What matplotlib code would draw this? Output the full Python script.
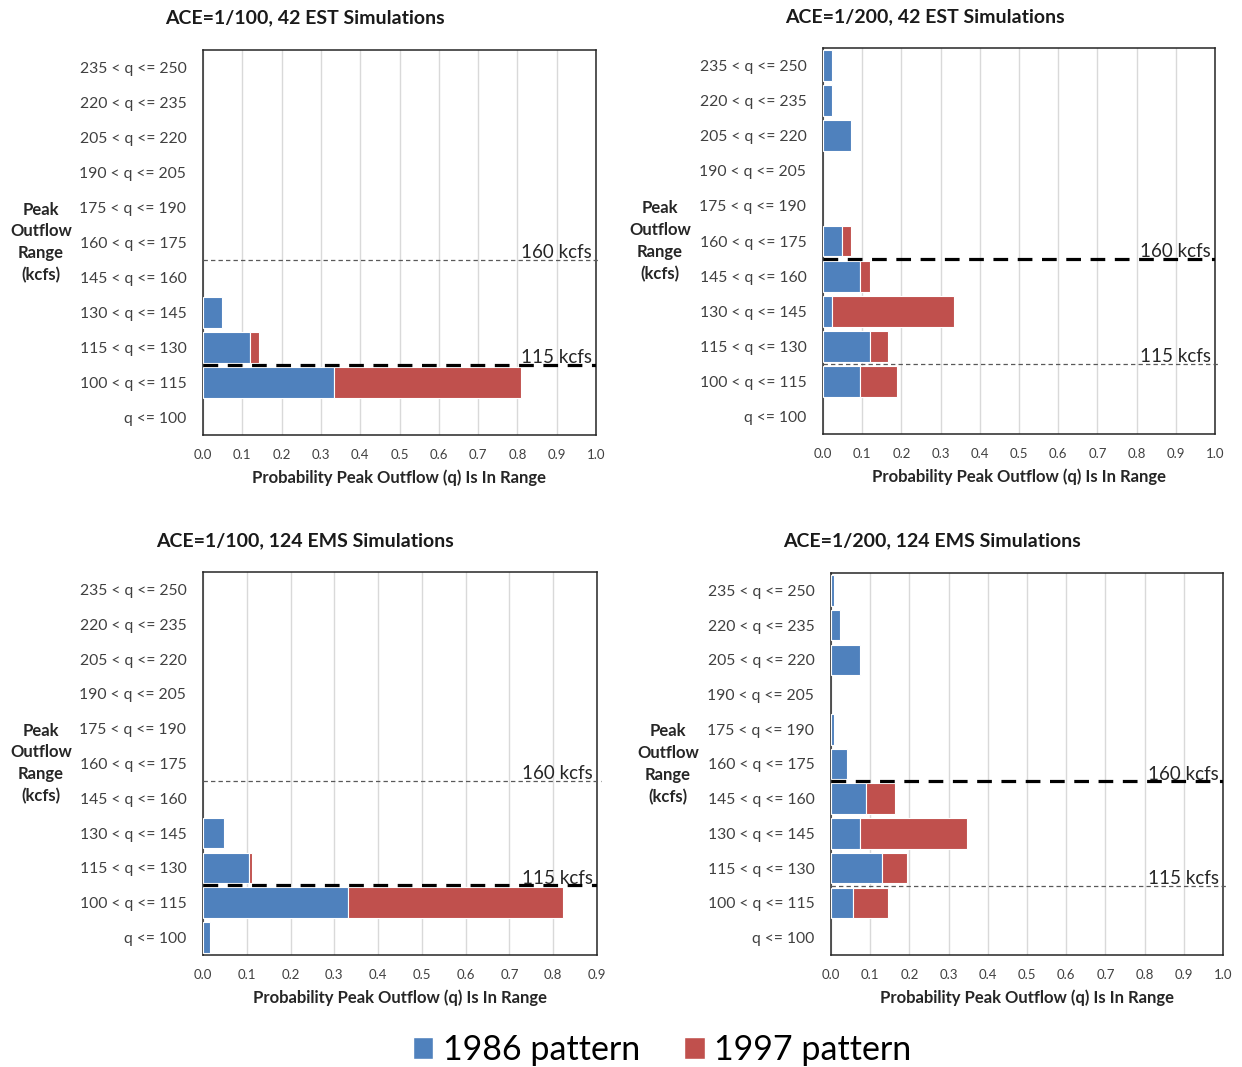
import matplotlib
matplotlib.use("Agg")
import numpy as np
from matplotlib import pyplot as plt
from matplotlib.patches import Patch

plt.rcParams['font.family'] = ['Lato', 'DejaVu Sans']

ranges = ['q <= 100', '100 < q <= 115', '115 < q <= 130', '130 < q <= 145',
          '145 < q <= 160', '160 < q <= 175', '175 < q <= 190', '190 < q <= 205',
          '205 < q <= 220', '220 < q <= 235', '235 < q <= 250']

# probability per range, 1986 / 1997 pattern
est100_1986 = [0, 0.333, 0.119, 0.048, 0, 0, 0, 0, 0, 0, 0]
est100_1997 = [0, 0.476, 0.024, 0, 0, 0, 0, 0, 0, 0, 0]
est200_1986 = [0, 0.095, 0.119, 0.024, 0.095, 0.048, 0, 0, 0.071, 0.024, 0.024]
est200_1997 = [0, 0.095, 0.048, 0.310, 0.024, 0.024, 0, 0, 0, 0, 0]
ems100_1986 = [0.016, 0.331, 0.105, 0.048, 0, 0, 0, 0, 0, 0, 0]
ems100_1997 = [0, 0.492, 0.008, 0, 0, 0, 0, 0, 0, 0, 0]
ems200_1986 = [0, 0.056, 0.129, 0.073, 0.089, 0.040, 0.008, 0, 0.073, 0.024, 0.008]
ems200_1997 = [0, 0.089, 0.065, 0.274, 0.073, 0, 0, 0, 0, 0, 0]

titles = ['ACE=1/100, 42 EST Simulations', 'ACE=1/200, 42 EST Simulations',
          'ACE=1/100, 124 EMS Simulations', 'ACE=1/200, 124 EMS Simulations']

BLUE = '#4F81BD'
RED = '#C0504D'
W, H = 1242, 1067

fig = plt.figure(figsize=(W / 100, H / 100), dpi=100)


def px_axes(l, t, r, b):
    return fig.add_axes([l / W, 1 - b / H, (r - l) / W, (b - t) / H])


def ftext(x, y, s, **kw):
    fig.text(x / W, 1 - y / H, s, **kw)


def panel(box, blue, red, xmax, thick_at, thin_at, title, title_x, title_y, ylab_x):
    l, t, r, b = box
    ax = px_axes(l, t, r, b)
    y = np.arange(len(ranges))
    b1 = ax.barh(y, blue, height=0.88, color=BLUE, edgecolor='white', linewidth=0.8, zorder=3)
    b2 = ax.barh(y, red, left=blue, height=0.88, color=RED, edgecolor='white', linewidth=0.8, zorder=3)
    for bars, vals in ((b1, blue), (b2, red)):
        for p, v in zip(bars, vals):
            if v == 0:
                p.set_visible(False)
    ax.set_ylim(-0.5, 10.5)
    ax.set_xlim(0, xmax)
    ticks = np.arange(0, xmax + 0.01, 0.1)
    ax.set_xticks(ticks)
    ax.set_xticklabels([f'{v:.1f}' for v in ticks])
    ax.set_yticks(y)
    ax.set_yticklabels(ranges)
    ax.tick_params(axis='both', length=0, colors='#404040')
    ax.tick_params(axis='y', labelsize=11.3, pad=12)
    ax.tick_params(axis='x', labelsize=9.5, pad=10)
    ax.grid(axis='x', color='#d9d9d9', linewidth=1, zorder=0)
    for s in ax.spines.values():
        s.set_color('#262626')
        s.set_linewidth(1.1)
    # threshold lines
    ax.axhline(thick_at, color='black', lw=2.3, dashes=(4.6, 3.0), zorder=4)
    ax.axhline(thin_at, color='#595959', lw=0.9, dashes=(3.5, 2.5), zorder=4, xmax=1.01, clip_on=False)
    labs = {1.5: '115 kcfs', 4.5: '160 kcfs'}
    for v in (thick_at, thin_at):
        ax.text(0.99, v - 0.04, labs[v], transform=ax.get_yaxis_transform(),
                ha='right', va='bottom', fontsize=13.5, color='#262626', zorder=5)
    ax.set_xlabel('Probability Peak Outflow (q) Is In Range', fontsize=12,
                  fontweight='bold', color='#262626', labelpad=6)
    ftext(title_x, title_y, title, ha='center', va='center', fontsize=14,
          fontweight='bold', color='#1a1a1a')
    ftext(ylab_x, (t + b) / 2, 'Peak\nOutflow\nRange\n(kcfs)', ha='center', va='center',
          fontsize=12, fontweight='bold', color='#262626', linespacing=1.45)
    return ax


panel((203, 50, 596, 435), est100_1986, est100_1997, 1.0, 1.5, 4.5, titles[0], 305, 18, 41)
panel((823, 48, 1215, 434), est200_1986, est200_1997, 1.0, 4.5, 1.5, titles[1], 925, 17, 660)
panel((203, 572, 597, 955), ems100_1986, ems100_1997, 0.9, 1.5, 4.5, titles[2], 305, 541, 41)
panel((831, 573, 1223, 955), ems200_1986, ems200_1997, 1.0, 4.5, 1.5, titles[3], 932, 541, 668)

handles = [Patch(facecolor=BLUE, edgecolor='white', label='1986 pattern'),
           Patch(facecolor=RED, edgecolor='white', label='1997 pattern')]
fig.legend(handles=handles, loc='center', bbox_to_anchor=(662 / W, 1 - 1050 / H), ncol=2,
           frameon=False, fontsize=24.5, handlelength=0.6, handleheight=0.6,
           handletextpad=0.27, columnspacing=1.3)

fig.savefig('out.png', dpi=100)
